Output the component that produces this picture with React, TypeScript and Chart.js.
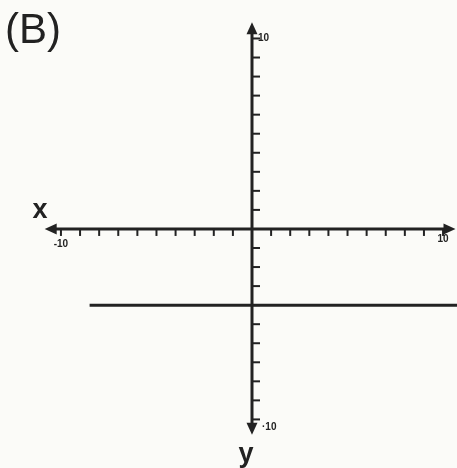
import React, { useEffect, useRef } from "react";
import { Chart, registerables } from "chart.js";

Chart.register(...registerables);

// Axis tick values (every unit, origin excluded)
const xTicks = [-10, -9, -8, -7, -6, -5, -4, -3, -2, -1, 1, 2, 3, 4, 5, 6, 7, 8, 9, 10];
const yTicks = [-10, -9, -8, -7, -6, -5, -4, -3, -2, -1, 1, 2, 3, 4, 5, 6, 7, 8, 9, 10];
// Labelled ticks
const xTickLabels = [-10, 10];
const yTickLabels = [-10, 10];
// Axis extents (arrow tips)
const xAxisEnds = [-10.85, 10.65];
const yAxisEnds = [-10.8, 10.85];
// Graphed horizontal line y = -4
const lineXs = [-8.5, 11];
const lineYs = [-4, -4];
// Visible window
const xRange = [-13.19, 10.73];
const yRange = [-12.55, 12.02];

const INK = "#222222";

const axesPlugin = {
  id: "handAxes",
  beforeDraw(chart: any) {
    const ctx = chart.ctx;
    ctx.save();
    ctx.fillStyle = "#fbfbf8";
    ctx.fillRect(0, 0, chart.width, chart.height);
    ctx.restore();
  },
  beforeDatasetsDraw(chart: any) {
    const ctx = chart.ctx;
    const xs = chart.scales.x;
    const ys = chart.scales.y;
    const ox = xs.getPixelForValue(0);
    const oy = ys.getPixelForValue(0);
    ctx.save();
    ctx.strokeStyle = INK;
    ctx.fillStyle = INK;
    ctx.lineCap = "butt";

    // x axis
    const xl = xs.getPixelForValue(xAxisEnds[0]);
    const xr = xs.getPixelForValue(xAxisEnds[1]);
    ctx.lineWidth = 3;
    ctx.beginPath();
    ctx.moveTo(xl + 6, oy);
    ctx.lineTo(xr - 6, oy);
    ctx.stroke();
    // y axis
    const yt = ys.getPixelForValue(yAxisEnds[1]);
    const yb = ys.getPixelForValue(yAxisEnds[0]);
    ctx.beginPath();
    ctx.moveTo(ox, yt + 6);
    ctx.lineTo(ox, yb - 6);
    ctx.stroke();

    // arrows
    const arrow = (tx: number, ty: number, dx: number, dy: number) => {
      const L = 12, W = 5.5;
      const bx = tx - dx * L, by = ty - dy * L;
      ctx.beginPath();
      ctx.moveTo(tx, ty);
      ctx.lineTo(bx - dy * W, by + dx * W);
      ctx.lineTo(bx + dy * W, by - dx * W);
      ctx.closePath();
      ctx.fill();
    };
    arrow(xl, oy, -1, 0);
    arrow(xr, oy, 1, 0);
    arrow(ox, yt, 0, -1);
    arrow(ox, yb, 0, 1);

    // ticks
    ctx.lineWidth = 2;
    xTicks.forEach((v) => {
      const px = xs.getPixelForValue(v);
      ctx.beginPath();
      ctx.moveTo(px, oy);
      ctx.lineTo(px, oy + 7);
      ctx.stroke();
    });
    yTicks.forEach((v) => {
      const py = ys.getPixelForValue(v);
      ctx.beginPath();
      ctx.moveTo(ox, py);
      ctx.lineTo(ox + 8, py);
      ctx.stroke();
    });

    // tick labels
    ctx.font = "bold 10px 'Liberation Sans', Arial, sans-serif";
    ctx.textBaseline = "middle";
    ctx.textAlign = "center";
    xTickLabels.forEach((v) => {
      const px = xs.getPixelForValue(v);
      const off = v < 0 ? 15 : 10;
      ctx.fillText(v < 0 ? "-" + Math.abs(v) : String(v), px, oy + off);
    });
    ctx.textAlign = "left";
    yTickLabels.forEach((v) => {
      const py = ys.getPixelForValue(v);
      if (v > 0) {
        ctx.fillText(String(v), ox + 6, py);
      } else {
        ctx.fillText("·" + Math.abs(v), ox + 10, py + 8);
      }
    });

    // axis letters
    ctx.font = "bold 27px 'Liberation Sans', Arial, sans-serif";
    ctx.textAlign = "center";
    ctx.textBaseline = "alphabetic";
    ctx.fillText("x", 40, oy - 11);
    ctx.fillText("y", ox - 6, 462);

    // panel label
    ctx.font = "42px 'Liberation Sans', Arial, sans-serif";
    ctx.textAlign = "left";
    ctx.fillText("(B)", 5, 43);
    ctx.restore();
  },
};

export default function App() {
  const ref = useRef<HTMLCanvasElement | null>(null);
  useEffect(() => {
    if (!ref.current) return;
    const chart = new Chart(ref.current, {
      type: "line",
      data: {
        datasets: [
          {
            data: lineXs.map((x, i) => ({ x, y: lineYs[i] })),
            borderColor: INK,
            borderWidth: 3,
            pointRadius: 0,
            fill: false,
          },
        ],
      },
      options: {
        responsive: false,
        animation: false,
        layout: { padding: 0 },
        plugins: { legend: { display: false }, tooltip: { enabled: false }, title: { display: false } },
        scales: {
          x: { type: "linear", min: xRange[0], max: xRange[1], display: false },
          y: { type: "linear", min: yRange[0], max: yRange[1], display: false },
        },
      },
      plugins: [axesPlugin],
    });
    return () => chart.destroy();
  }, []);
  return (
    <div style={{ position: "absolute", left: 0, top: 0, width: 457, height: 468 }}>
      <canvas ref={ref} width={457} height={468} style={{ display: "block" }} />
    </div>
  );
}
